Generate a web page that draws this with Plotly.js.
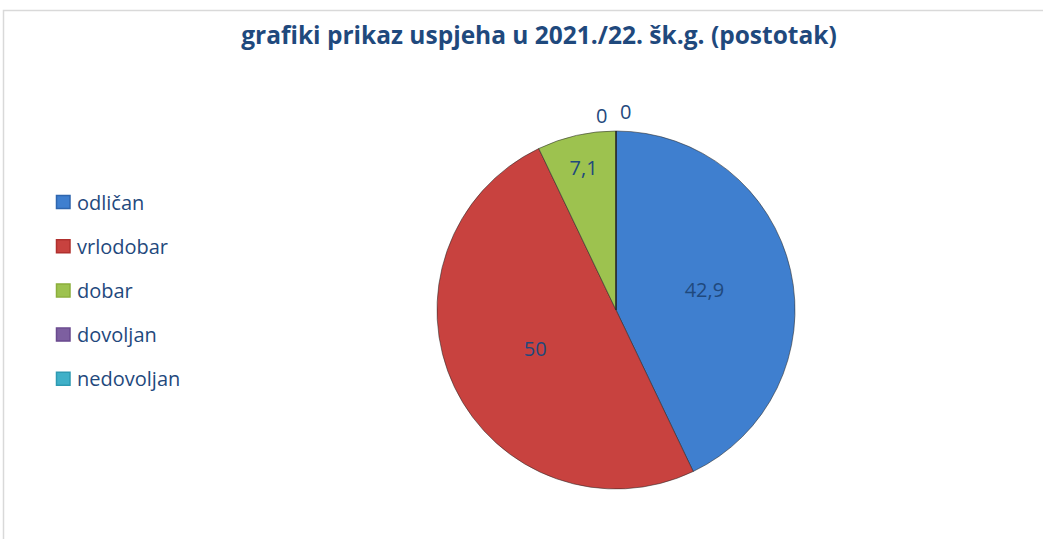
<!DOCTYPE html>
<html>
<head>
<meta charset="utf-8">
<script src="https://cdn.plot.ly/plotly-3.0.1.min.js"></script>
<style>
html,body{margin:0;padding:0;background:#fff;}
#chart{width:1043px;height:539px;}
</style>
</head>
<body>
<div id="chart"></div>
<script>
// Data
const categories = ['odličan', 'vrlodobar', 'dobar', 'dovoljan', 'nedovoljan'];
const values = [42.9, 50, 7.1, 0, 0];
const colors = ['#3F7FCF', '#C8423F', '#9DC24F', '#7D5FA0', '#3FB0C8'];
const legendColors = ['#2F66AE', '#B0302E', '#8CAE3C', '#6A4A8E', '#2E9AB2'];
const titleText = 'grafiki prikaz uspjeha u 2021./22. šk.g. (postotak)';

const W = 1043, H = 539;
const px = x => x / W;
const py = y => 1 - y / H;

const fmt = v => String(v).replace('.', ',');
const labelColor = '#1F497D';
const font = 'Open Sans, Liberation Sans, sans-serif';

// Pie geometry (pixels)
const cx = 616, cy = 310, r = 179;

const trace = {
  type: 'pie',
  labels: categories,
  values: values,
  text: values.map(fmt),
  textinfo: 'text',
  textposition: 'inside',
  insidetextorientation: 'horizontal',
  textfont: {family: font, size: 20, color: labelColor},
  sort: false,
  direction: 'clockwise',
  rotation: 0,
  marker: {colors: colors, line: {color: 'rgba(40,40,40,0.55)', width: 1}},
  hoverinfo: 'skip',
  showlegend: false,
  domain: {x: [px(cx - r), px(cx + r)], y: [py(cy + r), py(cy - r)]}
};

const annotations = [];
const shapes = [];

// chart border
shapes.push({type: 'rect', xref: 'paper', yref: 'paper',
  x0: px(3.5), x1: px(1100), y0: py(700), y1: py(10.5),
  line: {color: '#D9D9D9', width: 1.5}, fillcolor: 'rgba(0,0,0,0)', layer: 'below'});

// legend
const legTop = 202, legStep = 44.2;
categories.forEach((c, i) => {
  const yc = legTop + i * legStep;
  shapes.push({type: 'rect', xref: 'paper', yref: 'paper',
    x0: px(56.5), x1: px(70), y0: py(yc + 6.5), y1: py(yc - 6.5),
    fillcolor: colors[i], line: {color: legendColors[i], width: 1.5}});
  annotations.push({xref: 'paper', yref: 'paper', x: px(75), y: py(yc),
    xanchor: 'left', yanchor: 'middle', showarrow: false, text: c,
    font: {family: font, size: 20, color: labelColor}});
});

// labels for zero-value slices (not drawn as slices)
const zeroPos = [[601, 115], [625, 111]];
[3, 4].forEach((idx, k) => {
  annotations.push({xref: 'paper', yref: 'paper', x: px(zeroPos[k][0]), y: py(zeroPos[k][1]),
    xanchor: 'center', yanchor: 'middle', showarrow: false, text: fmt(values[idx]),
    font: {family: font, size: 20, color: labelColor}});
});

const layout = {
  width: W, height: H,
  margin: {l: 0, r: 0, t: 0, b: 0},
  paper_bgcolor: '#ffffff',
  separators: ',.',
  title: {text: '<b>' + titleText + '</b>', x: px(539), xanchor: 'center',
    y: py(35), yanchor: 'middle', xref: 'paper', yref: 'container',
    font: {family: font, size: 24.5, color: labelColor}},
  shapes: shapes,
  annotations: annotations,
  showlegend: false
};

Plotly.newPlot('chart', [trace], layout, {displayModeBar: false, staticPlot: true});
</script>
</body>
</html>
